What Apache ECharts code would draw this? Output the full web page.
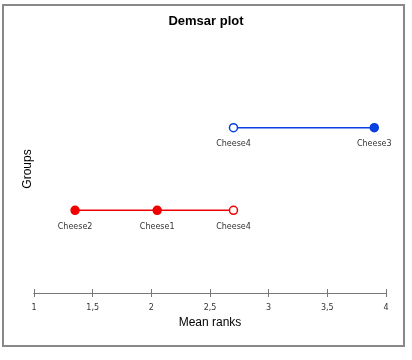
<!DOCTYPE html>
<html><head><meta charset="utf-8">
<script src="https://cdn.jsdelivr.net/npm/echarts@6/dist/echarts.min.js"></script>
<style>html,body{margin:0;padding:0;background:#fff}#c{width:412px;height:360px}</style>
</head><body><div id="c"></div>
<script>
const xTicks = [1, 1.5, 2, 2.5, 3, 3.5, 4];
const topNames = ['Cheese4', 'Cheese3'];
const topRanks = [2.7, 3.9];
const topFilled = [false, true];
const topLevel = 2;
const botNames = ['Cheese2', 'Cheese1', 'Cheese4'];
const botRanks = [1.35, 2.05, 2.7];
const botFilled = [true, true, false];
const botLevel = 1;

function mk(names, ranks, filled, level, color) {
  return {
    type: 'line',
    data: names.map((n, i) => ({
      value: [ranks[i], level], name: n,
      itemStyle: { color: filled[i] ? color : '#fff', borderColor: color, borderWidth: 1.5 }
    })),
    symbol: 'circle', symbolSize: 8,
    lineStyle: { color: color, width: 1.5 },
    label: { show: true, position: 'bottom', distance: 8, formatter: p => p.name,
      fontFamily: 'DejaVu Sans', fontSize: 8, color: '#333' },
    silent: true, animation: false
  };
}
const chart = echarts.init(document.getElementById('c'));
const baseX = {
  type: 'value', min: 1, max: 4, interval: 0.5,
  axisLine: { lineStyle: { color: '#777' } },
  splitLine: { show: false }
};
chart.setOption({
  animation: false,
  title: { text: 'Demsar plot', left: 'center', top: 10,
    textStyle: { fontFamily: 'Liberation Sans', fontSize: 13, fontWeight: 'bold', color: '#000' } },
  grid: { left: 34, right: 26, top: 45, bottom: 67 },
  xAxis: [
    Object.assign({}, baseX, {
      name: 'Mean ranks', nameLocation: 'middle', nameGap: 24,
      nameTextStyle: { fontFamily: 'Liberation Sans', fontSize: 12, color: '#000' },
      axisTick: { show: true, length: 4, lineStyle: { color: '#777' } },
      axisLabel: { fontFamily: 'DejaVu Sans', fontSize: 8, color: '#333', margin: 11,
        formatter: v => String(v).replace('.', ',') }
    }),
    Object.assign({}, baseX, {
      position: 'bottom', axisTick: { show: true, inside: true, length: 4, lineStyle: { color: '#777' } },
      axisLabel: { show: false }
    })
  ],
  yAxis: {
    type: 'value', min: 0, max: 3,
    name: 'Groups', nameLocation: 'middle', nameGap: 0,
    nameTextStyle: { fontFamily: 'Liberation Sans', fontSize: 12, color: '#000' },
    axisLine: { show: false }, axisTick: { show: false }, axisLabel: { show: false },
    splitLine: { show: false }
  },
  graphic: [{ type: 'rect', shape: { x: 3, y: 5, width: 401, height: 341 },
    style: { fill: 'none', stroke: '#888', lineWidth: 2 }, silent: true }],
  series: [
    mk(topNames, topRanks, topFilled, topLevel, '#0a3fe0'),
    mk(botNames, botRanks, botFilled, botLevel, '#f00000')
  ]
});
</script></body></html>
